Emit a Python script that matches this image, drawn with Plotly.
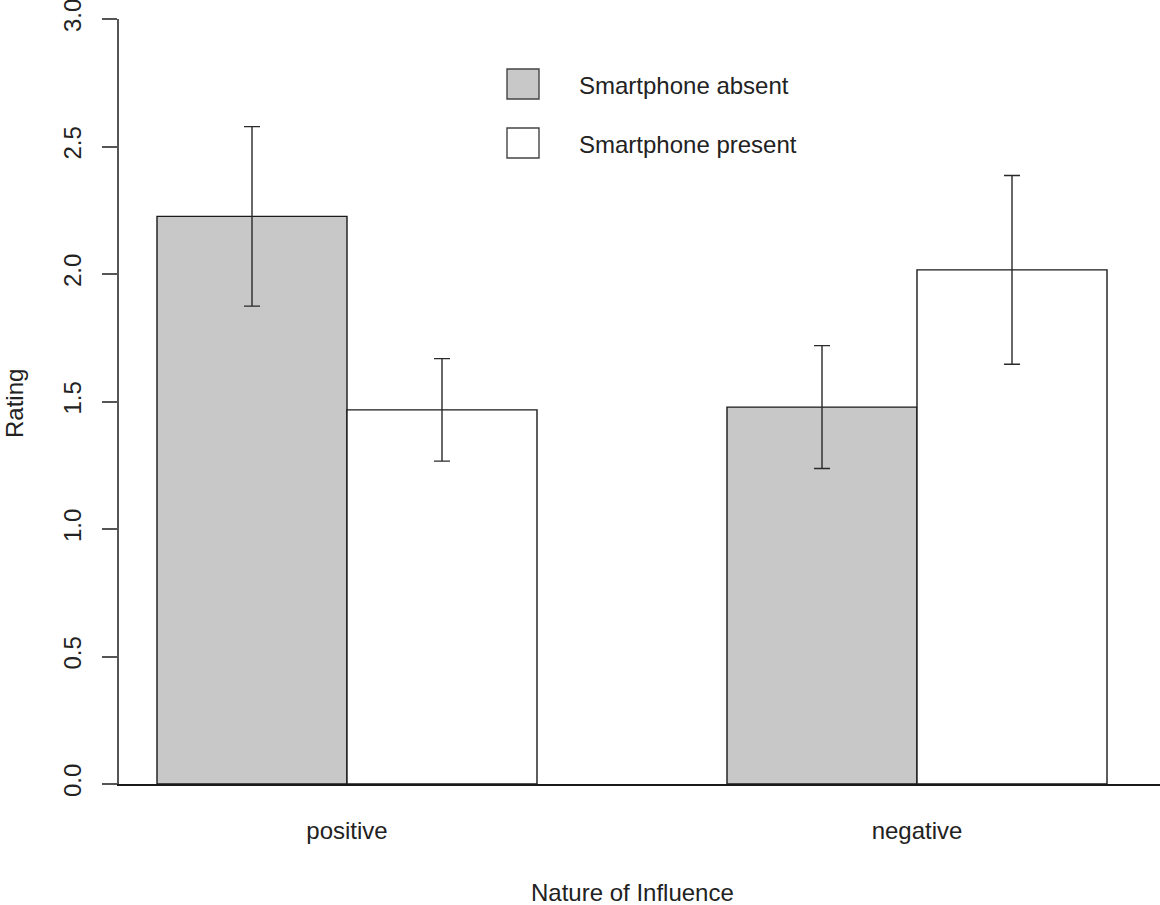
import plotly.graph_objects as go

# Ratings by nature of influence, with and without a smartphone present
categories = ["positive", "negative"]
series_names = ["Smartphone absent", "Smartphone present"]
absent_means = [2.226, 1.478]
absent_err = [0.352, 0.241]
present_means = [1.467, 2.016]
present_err = [0.201, 0.370]
y_ticks = [0.0, 0.5, 1.0, 1.5, 2.0, 2.5, 3.0]

FONT = "Liberation Sans, Arial, sans-serif"
W, H = 1160, 905
M_L, M_R, M_T, M_B = 119, 0, 19, 121

# grouped bar layout: each group is two unit-wide bars, groups separated by one bar width
group_centers = [2 + 3 * i for i in range(len(categories))]
absent_x = [c - 0.5 for c in group_centers]
present_x = [c + 0.5 for c in group_centers]

fig = go.Figure()
err_style = dict(type="data", visible=True, color="#2a2a2a", thickness=1.4, width=8)
fig.add_trace(go.Bar(
    x=absent_x, y=absent_means, width=1.0, name=series_names[0],
    marker=dict(color="#c8c8c8", line=dict(color="#1a1a1a", width=1.4)),
    error_y=dict(array=absent_err, **err_style),
))
fig.add_trace(go.Bar(
    x=present_x, y=present_means, width=1.0, name=series_names[1],
    marker=dict(color="#ffffff", line=dict(color="#1a1a1a", width=1.4)),
    error_y=dict(array=present_err, **err_style),
))

plot_w = W - M_L - M_R
plot_h = H - M_T - M_B


def px_x(px):
    return (px - M_L) / plot_w


def px_y(py):
    return (H - M_B - py) / plot_h


# hand-drawn legend: outlined swatches with labels beside them
legend_fills = ["#c8c8c8", "#ffffff"]
legend_rows = [84, 143]
shapes = []
annotations = []
for name, fill, cy in zip(series_names, legend_fills, legend_rows):
    shapes.append(dict(
        type="rect", xref="paper", yref="paper",
        x0=px_x(507), x1=px_x(539), y0=px_y(cy + 15), y1=px_y(cy - 15),
        fillcolor=fill, line=dict(color="#444", width=1.4),
    ))
    annotations.append(dict(
        xref="paper", yref="paper", x=px_x(577), y=px_y(cy + 1),
        xanchor="left", yanchor="middle", showarrow=False, text=name,
        font=dict(family=FONT, size=24, color="#222"),
    ))

annotations.append(dict(
    xref="paper", yref="paper", x=px_x(632), y=px_y(892),
    xanchor="center", yanchor="middle", showarrow=False, text="Nature of Influence",
    font=dict(family=FONT, size=24, color="#222"),
))
annotations.append(dict(
    xref="paper", yref="paper", x=px_x(14), y=px_y(403),
    xanchor="center", yanchor="middle", showarrow=False, text="Rating", textangle=-90,
    font=dict(family=FONT, size=24, color="#222"),
))

x_left = 0.8
x_right = x_left + plot_w / 190.0

fig.update_layout(
    width=W, height=H,
    margin=dict(l=M_L, r=M_R, t=M_T, b=M_B, pad=0),
    paper_bgcolor="white", plot_bgcolor="white",
    barmode="overlay", showlegend=False,
    font=dict(family=FONT, size=24, color="#222"),
    shapes=shapes, annotations=annotations,
    xaxis=dict(
        range=[x_left, x_right], showgrid=False, zeroline=False,
        showline=True, linecolor="#1a1a1a", linewidth=1.5,
        tickmode="array", tickvals=group_centers, ticktext=categories,
        ticks="", ticklabelstandoff=24,
        tickfont=dict(family=FONT, size=24, color="#222"),
    ),
    yaxis=dict(
        range=[0, 3], showgrid=False, zeroline=False,
        showline=True, linecolor="#555", linewidth=1.5,
        tickmode="array", tickvals=y_ticks, tickformat=".1f",
        ticks="outside", ticklen=15, tickwidth=1.5, tickcolor="#555",
        tickangle=-90, ticklabelstandoff=12, ticklabeloverflow="allow",
        tickfont=dict(family=FONT, size=24, color="#222"),
    ),
)

fig.write_html("out.html")
